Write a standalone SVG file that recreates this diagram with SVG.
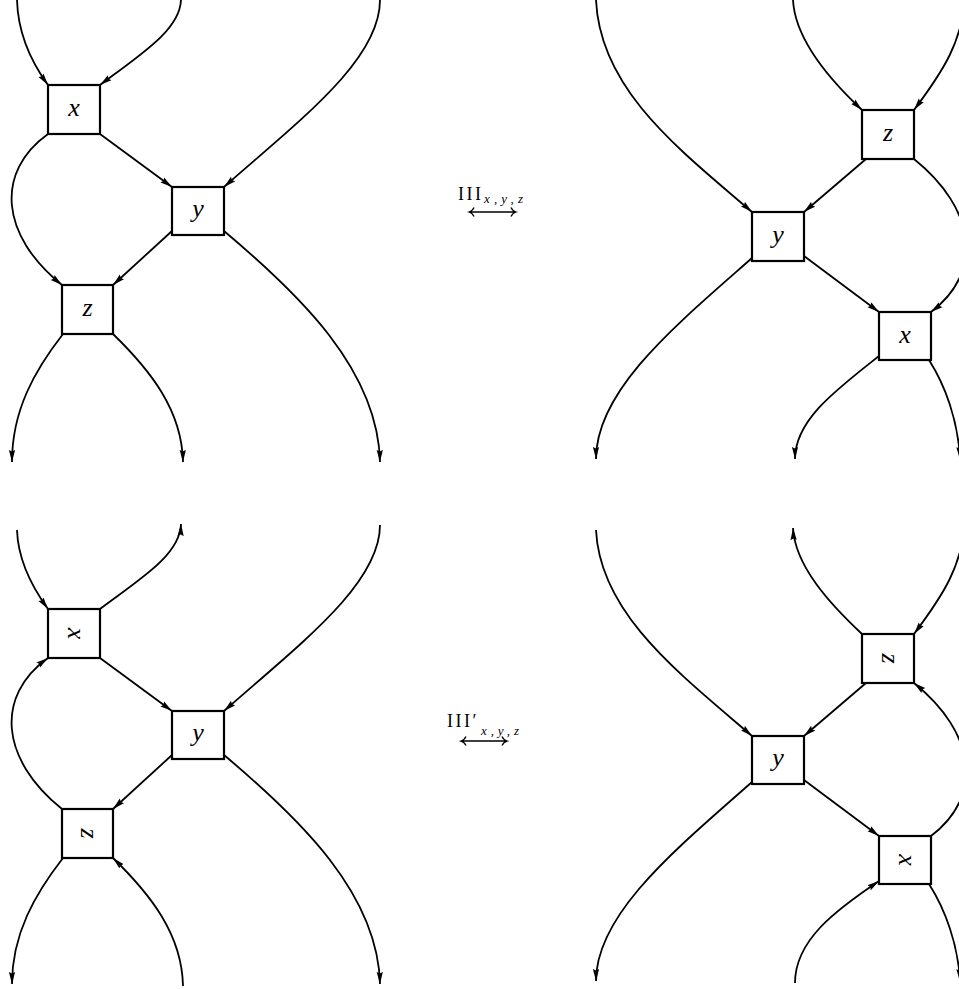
<svg xmlns="http://www.w3.org/2000/svg" width="959" height="989" viewBox="0 0 959 989">
<style>
.box{fill:#fff;stroke:#000;stroke-width:2.2}
.c{fill:none;stroke:#000;stroke-width:1.8}
.e{marker-end:url(#ah)}
.s{marker-start:url(#ah)}
.lbl{font-family:"Liberation Serif","DejaVu Serif",serif;font-style:italic;font-size:26px;text-anchor:middle;dominant-baseline:central}
.rom{font-family:"Liberation Serif","DejaVu Serif",serif;font-size:18px}
.sub{font-family:"Liberation Serif","DejaVu Serif",serif;font-style:italic;font-size:13px}
.arr{fill:none;stroke:#000;stroke-width:1.3}
</style>
<defs>
<marker id="ah" markerUnits="userSpaceOnUse" markerWidth="13" markerHeight="8" refX="12" refY="4" orient="auto-start-reverse">
<path d="M0,0.9 L12,4 L0,7.1 L1.5,4 Z" fill="#000"/>
</marker>
</defs>
<rect width="959" height="989" fill="#fff"/>
<g id="connectors">
<!-- top-left -->
<path class="c e" d="M17,0 C18,35 32,63 48,85"/>
<path class="c e" d="M181,0 C180,30 140,55 100,85"/>
<path class="c e" d="M380,0 C380,60 300,120 224,187"/>
<path class="c e" d="M48,134 C-5,172 0,235 62,285"/>
<path class="c e" d="M100,134 L172,187"/>
<path class="c e" d="M172,231 L113,285"/>
<path class="c e" d="M224,231 C300,295 378,370 380,462"/>
<path class="c e" d="M63,334 C35,370 12,410 12,462"/>
<path class="c e" d="M113,334 C150,370 182,410 183,462"/>
<!-- top-right -->
<path class="c e" d="M596,0 C600,90 680,150 752,212"/>
<path class="c e" d="M793,0 C795,40 830,80 862,110"/>
<path class="c e" d="M965,-10 C965,40 941,74 914,110"/>
<path class="c e" d="M866,159 L804,212"/>
<path class="c e" d="M804,256 L879,312"/>
<path class="c e" d="M914,159 C976,209 984,272 931,312"/>
<path class="c e" d="M752,258 C676,325 596,390 596,459"/>
<path class="c e" d="M879,356 C836,390 795,420 795,459"/>
<path class="c e" d="M929,360 C945,385 958,420 960,459"/>
<!-- bottom-left -->
<path class="c e" d="M17,530 C18,559 32,587 48,609"/>
<path class="c e" d="M100,609 C140,579 180,555 181,524"/>
<path class="c e" d="M380,525 C380,584 300,644 224,711"/>
<path class="c s" d="M48,658 C-5,696 0,759 62,809"/>
<path class="c e" d="M100,658 L172,711"/>
<path class="c e" d="M172,755 L113,809"/>
<path class="c e" d="M224,755 C300,819 378,894 380,984"/>
<path class="c e" d="M63,858 C35,894 12,934 12,984"/>
<path class="c s" d="M113,858 C150,894 182,934 183,986"/>
<!-- bottom-right -->
<path class="c e" d="M596,530 C600,614 680,674 752,736"/>
<path class="c s" d="M793,528 C795,566 830,604 862,634"/>
<path class="c e" d="M965,514 C965,564 941,598 914,634"/>
<path class="c e" d="M866,683 L804,736"/>
<path class="c e" d="M804,780 L879,836"/>
<path class="c s" d="M914,683 C976,733 984,796 931,836"/>
<path class="c e" d="M752,782 C676,849 596,914 596,981"/>
<path class="c e" d="M795,983 C795,940 836,910 879,881"/>
<path class="c e" d="M929,884 C945,909 958,944 960,981"/>
</g>
<!-- top-left nodes -->
<g id="tl-x"><rect class="box" x="48" y="85" width="52" height="49"/><text class="lbl" x="74" y="107">x</text></g>
<g id="tl-y"><rect class="box" x="172" y="187" width="52" height="48"/><text class="lbl" x="198" y="208">y</text></g>
<g id="tl-z"><rect class="box" x="62" y="285" width="51" height="49"/><text class="lbl" x="87.5" y="307">z</text></g>
<!-- top-right nodes -->
<g id="tr-z"><rect class="box" x="862" y="110" width="52" height="49"/><text class="lbl" x="888" y="132">z</text></g>
<g id="tr-y"><rect class="box" x="752" y="212" width="52" height="49"/><text class="lbl" x="778" y="234">y</text></g>
<g id="tr-x"><rect class="box" x="879" y="312" width="52" height="48"/><text class="lbl" x="905" y="334">x</text></g>
<!-- bottom-left nodes -->
<g id="bl-x"><rect class="box" x="48" y="609" width="52" height="49"/><text class="lbl" transform="translate(76,633.5) rotate(90)">x</text></g>
<g id="bl-y"><rect class="box" x="172" y="711" width="52" height="48"/><text class="lbl" x="198" y="732">y</text></g>
<g id="bl-z"><rect class="box" x="62" y="809" width="51" height="49"/><text class="lbl" transform="translate(89.5,833.5) rotate(90)">z</text></g>
<!-- bottom-right nodes -->
<g id="br-z"><rect class="box" x="862" y="634" width="52" height="49"/><text class="lbl" transform="translate(890,658.5) rotate(90)">z</text></g>
<g id="br-y"><rect class="box" x="752" y="736" width="52" height="48"/><text class="lbl" x="778" y="757">y</text></g>
<g id="br-x"><rect class="box" x="879" y="836" width="52" height="48"/><text class="lbl" transform="translate(907,860) rotate(90)">x</text></g>
<!-- move labels -->
<g id="move1">
<text class="rom" x="458" y="200" letter-spacing="2.5">III</text>
<text class="sub" x="484" y="203" textLength="39">x,y,z</text>
<path class="arr" d="M469,212 L516,212 M474,207.5 Q472.5,211 469,212 Q472.5,213 474,216.5 M511,207.5 Q512.5,211 516,212 Q512.5,213 511,216.5"/>
</g>
<g id="move2">
<text class="rom" x="447" y="727" letter-spacing="2.5">III′</text>
<text class="sub" x="481" y="735" textLength="38">x,y,z</text>
<path class="arr" d="M461,741 L507,741 M466,736.5 Q464.5,740 461,741 Q464.5,742 466,745.5 M502,736.5 Q503.5,740 507,741 Q503.5,742 502,745.5"/>
</g>
</svg>
